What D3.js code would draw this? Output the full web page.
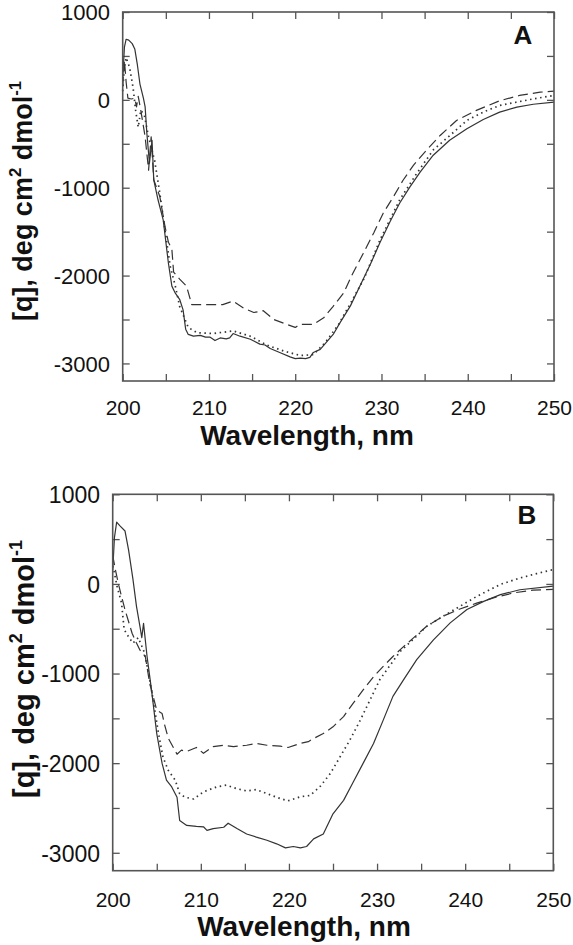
<!DOCTYPE html>
<html><head><meta charset="utf-8">
<script src="https://cdn.jsdelivr.net/npm/d3@7"></script>
<style>body{margin:0;background:#fff}svg{display:block}</style>
</head><body>
<svg id="c" width="573" height="945"></svg>
<script>
// ---- data (wavelength nm, mean residue ellipticity) ----
const xTicks = [200,205,210,215,220,225,230,235,240,245,250];
const yTicks = [1000,500,0,-500,-1000,-1500,-2000,-2500,-3000];
const xLabels = [200,210,220,230,240,250];
const yLabels = [1000,0,-1000,-2000,-3000];
const panelNames = ["A","B"];

const aSolid = [[200,250],[200.2,600],[200.4,690],[200.7,680],[201.1,640],[201.4,580],[201.7,400],[202,180],[202.4,20],[202.6,-80],[202.8,-380],[203.1,-720],[203.4,-460],[203.6,-910],[204.1,-1140],[204.7,-1370],[205.3,-1860],[205.7,-2120],[206.1,-2200],[206.6,-2270],[207,-2390],[207.3,-2610],[207.6,-2670],[208.2,-2690],[209,-2680],[209.6,-2700],[210.1,-2700],[210.7,-2740],[211.3,-2710],[212,-2720],[212.4,-2710],[212.8,-2660],[213.6,-2690],[214.8,-2725],[215.9,-2780],[216.5,-2790],[217.1,-2830],[218.2,-2875],[219.4,-2925],[220,-2945],[220.6,-2940],[221.2,-2945],[221.7,-2932],[222.1,-2875],[222.9,-2840],[223.6,-2760],[224.4,-2670],[225.2,-2535],[226.4,-2345],[227.5,-2120],[228.7,-1875],[229.8,-1630],[231,-1385],[232.1,-1177],[233.3,-990],[234.5,-820],[236,-630],[237.9,-460],[239.9,-330],[241.8,-223],[243.7,-140],[245.7,-83],[247.6,-50],[250,-25]];
const aDotted = [[200,100],[200.2,380],[200.4,480],[200.8,370],[201.2,140],[201.5,-120],[201.8,-310],[202.1,-120],[202.5,-170],[203,-420],[203.7,-690],[204.3,-1060],[204.9,-1480],[205.5,-1890],[206.1,-2120],[206.6,-2350],[207.6,-2590],[208.6,-2650],[210.5,-2660],[212.8,-2630],[214.8,-2690],[216.7,-2790],[218.7,-2860],[220.6,-2910],[222.1,-2900],[223.5,-2760],[225,-2560],[226.5,-2300],[228,-2030],[229.8,-1600],[232.1,-1140],[234,-850],[236,-570],[238,-400],[239.9,-234],[242,-130],[243.7,-64],[247.6,11],[250,50]];
const aDashed = [[200,150],[200.2,450],[200.4,200],[200.6,20],[201,10],[201.4,20],[201.6,-80],[201.8,40],[202.1,-120],[202.6,-420],[203,-800],[203.3,-420],[203.6,-910],[204.3,-1100],[204.9,-1440],[205.3,-1620],[205.7,-1700],[205.9,-1960],[206.6,-2040],[207.4,-2120],[208,-2330],[208.6,-2330],[210.1,-2330],[211.6,-2330],[212.8,-2290],[214,-2370],[215.2,-2420],[216.3,-2400],[217.5,-2500],[219,-2555],[220,-2590],[220.6,-2555],[222.1,-2555],[223.3,-2480],[224.4,-2350],[225.6,-2200],[226.7,-1970],[227.9,-1745],[229.1,-1515],[230.2,-1290],[231.4,-1100],[232.5,-915],[233.7,-745],[235.2,-575],[236.8,-405],[238.7,-235],[241,-120],[243.7,-10],[246,50],[248.4,87],[250,100]];

const bSolid = [[200,150],[200.2,520],[200.45,690],[200.8,650],[201.4,590],[201.8,380],[202.3,50],[202.7,-250],[203.1,-480],[203.3,-600],[203.5,-440],[203.9,-810],[204.4,-1180],[205,-1670],[205.6,-2000],[206.1,-2190],[206.7,-2265],[207.3,-2380],[207.6,-2640],[208.4,-2695],[209.5,-2705],[210.3,-2710],[210.7,-2750],[211.4,-2730],[212.6,-2715],[213.1,-2670],[214.1,-2730],[215.2,-2790],[216.3,-2825],[217.5,-2860],[218.6,-2900],[219.6,-2945],[220.5,-2930],[221.3,-2945],[222,-2930],[222.8,-2845],[223.9,-2790],[225,-2565],[226.2,-2415],[227.3,-2210],[228.4,-2005],[229.6,-1780],[230.7,-1520],[231.8,-1255],[233,-1070],[234.5,-845],[236.4,-625],[238.3,-435],[240.2,-285],[242.1,-195],[244,-120],[246.2,-65],[250,-25]];
const bDotted = [[200,200],[200.2,120],[200.5,-30],[201,-210],[201.3,-510],[201.8,-590],[202.3,-660],[202.9,-600],[203.5,-740],[204,-960],[204.6,-1300],[205.2,-1670],[205.7,-1930],[206.3,-2080],[207.1,-2190],[207.6,-2340],[208.2,-2380],[209.2,-2400],[210.3,-2320],[211.8,-2265],[212.9,-2245],[214.1,-2285],[215.2,-2310],[216.3,-2295],[217.5,-2340],[219,-2395],[219.9,-2420],[221.3,-2375],[222.4,-2360],[223.5,-2265],[224.7,-2115],[225.8,-1930],[226.9,-1745],[228.1,-1520],[229.2,-1295],[230.3,-1070],[231.5,-905],[232.6,-755],[234.1,-620],[235.6,-475],[237.5,-360],[239.4,-250],[241.3,-140],[244,-5],[246.2,65],[248.1,115],[250,160]];
const bDashed = [[200,320],[200.3,160],[200.7,-20],[200.9,-100],[201.4,-290],[202.2,-550],[202.7,-660],[203.1,-740],[203.7,-810],[204.2,-1110],[205,-1410],[205.6,-1445],[205.9,-1575],[206.3,-1720],[207.3,-1900],[207.8,-1855],[208.4,-1870],[209.5,-1825],[210.3,-1890],[211.4,-1815],[212.6,-1800],[213.7,-1815],[215.2,-1800],[216.3,-1780],[217.5,-1800],[219,-1810],[219.9,-1825],[221.3,-1780],[222.2,-1760],[222.8,-1725],[223.9,-1670],[225,-1595],[226.2,-1480],[227.3,-1330],[228.4,-1185],[229.6,-1035],[230.7,-920],[231.8,-810],[233,-700],[234.1,-605],[235.6,-475],[237.5,-360],[239.4,-280],[241.3,-215],[243.2,-155],[245.5,-100],[247.7,-70],[250,-60]];

// ---- layout ----
const panels = [
  {name: panelNames[0], x0:122.7, x1:554, yTop:12, yBot:381, series:[aSolid,aDotted,aDashed],
   yLabRight:110, xPad:19, yTitleX:32, yTitleY:201, yTitleSize:27, yTickSize:22,
   xTitleX:307, xTitleY:445, lblX:523, lblY:44},
  {name: panelNames[1], x0:112.7, x1:553.3, yTop:494.3, yBot:870.7, series:[bSolid,bDotted,bDashed],
   yLabRight:100, xPad:21, yTitleX:34, yTitleY:669, yTitleSize:29, yTickSize:23,
   xTitleX:304, xTitleY:936, lblX:527, lblY:524}
];
const styles = [
  {dash:null, w:1.2},
  {dash:"1.5,3.6", w:1.7},
  {dash:"10,5", w:1.2}
];
const ink = "#333", frame = "#555";
const svg = d3.select("#c");
const font = "'Liberation Sans', Arial, Helvetica, sans-serif";

panels.forEach(p => {
  const x = d3.scaleLinear().domain([200,250]).range([p.x0,p.x1]);
  const y = d3.scaleLinear().domain([-3200,1000]).range([p.yBot,p.yTop]);
  const g = svg.append("g");
  const tk = 7;
  const fmtX = d => xLabels.includes(d) ? d : "";
  const fmtY = d => yLabels.includes(d) ? d : "";

  const bx = g.append("g").attr("transform",`translate(0,${p.yBot})`)
    .call(d3.axisBottom(x).tickValues(xTicks).tickSizeInner(-tk).tickSizeOuter(0).tickPadding(p.xPad).tickFormat(fmtX));
  g.append("g").attr("transform",`translate(0,${p.yTop})`)
    .call(d3.axisTop(x).tickValues(xTicks).tickSizeInner(-tk).tickSizeOuter(0).tickFormat(""));
  const ly = g.append("g").attr("transform",`translate(${p.x0},0)`)
    .call(d3.axisLeft(y).tickValues(yTicks).tickSizeInner(-tk).tickSizeOuter(0).tickPadding(p.x0 - p.yLabRight).tickFormat(fmtY));
  g.append("g").attr("transform",`translate(${p.x1},0)`)
    .call(d3.axisRight(y).tickValues(yTicks).tickSizeInner(-tk).tickSizeOuter(0).tickFormat(""));
  g.selectAll(".domain").remove();
  g.selectAll(".tick line").attr("stroke",frame).attr("stroke-width",1.3);
  bx.selectAll("text").attr("font-family",font).attr("font-size",21).attr("fill","#111");
  ly.selectAll("text").attr("font-family",font).attr("font-size",p.yTickSize).attr("fill","#111").attr("dy","0.36em");

  // curves
  const line = d3.line().x(d => x(d[0])).y(d => y(d[1]));
  p.series.forEach((s,i) => {
    g.append("path").datum(s).attr("d",line).attr("fill","none")
      .attr("stroke",ink).attr("stroke-width",styles[i].w)
      .attr("stroke-dasharray",styles[i].dash).attr("stroke-linejoin","round");
  });

  // frame
  g.append("rect").attr("x",p.x0).attr("y",p.yTop).attr("width",p.x1-p.x0).attr("height",p.yBot-p.yTop)
    .attr("fill","none").attr("stroke",frame).attr("stroke-width",1.6);

  // panel letter
  g.append("text").attr("x",p.lblX).attr("y",p.lblY).attr("text-anchor","middle")
    .attr("font-family",font).attr("font-weight","bold").attr("font-size",26).attr("fill","#111").text(p.name);

  // x title
  g.append("text").attr("x",p.xTitleX).attr("y",p.xTitleY).attr("text-anchor","middle")
    .attr("font-family",font).attr("font-weight","bold").attr("font-size",28).attr("fill","#111")
    .text("Wavelength, nm");

  // y title
  const yt = g.append("text").attr("transform",`translate(${p.yTitleX},${p.yTitleY}) rotate(-90)`)
    .attr("text-anchor","middle").attr("font-family",font).attr("font-weight","bold")
    .attr("font-size",p.yTitleSize).attr("fill","#111");
  const fs = p.yTitleSize;
  yt.append("tspan").text("[q], deg cm");
  yt.append("tspan").attr("font-size",fs*0.62).attr("dy",-fs*0.42).text("2");
  yt.append("tspan").attr("dy",fs*0.42).text(" dmol");
  yt.append("tspan").attr("font-size",fs*0.62).attr("dy",-fs*0.42).text("-1");
});
</script>
</body></html>
